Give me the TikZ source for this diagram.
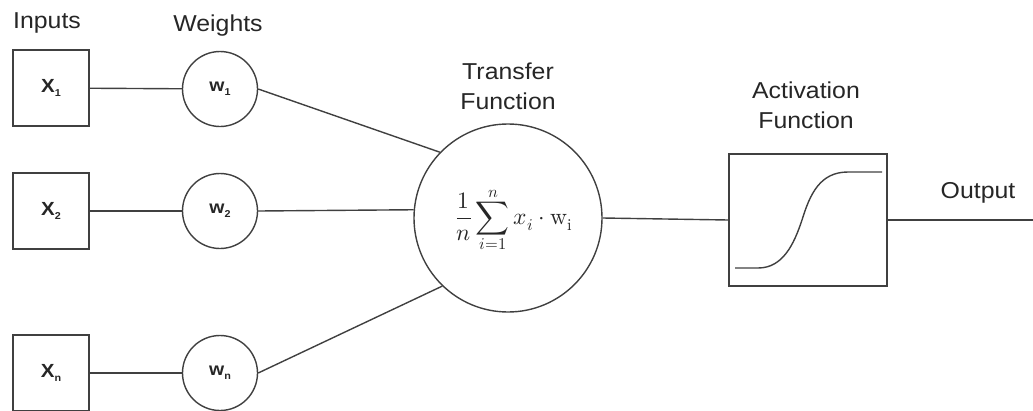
\documentclass[tikz,border=0pt]{standalone}
\usepackage{fontspec}
\usepackage{unicode-math}
\setmainfont{Liberation Sans}[FakeStretch=1.08]
\setmathfont{Latin Modern Math}
\begin{document}
\begin{tikzpicture}[x=1pt,y=-1pt,
  line width=1.4pt,
  every node/.style={text=black!85},
  inbox/.style={draw=black!75,minimum width=76pt,minimum height=76pt,inner sep=0pt,font=\fontsize{19}{20}\selectfont\bfseries},
  wcirc/.style={draw=black!75,circle,minimum size=75pt,inner sep=0pt,font=\fontsize{18}{20}\selectfont\bfseries},
  tcirc/.style={draw=black!75,circle,minimum size=188pt,inner sep=0pt},
  actbox/.style={draw=black!75,minimum width=158pt,minimum height=132pt,inner sep=0pt},
  lbl/.style={font=\fontsize{23}{30}\selectfont,align=center,inner sep=0pt},
  conn/.style={draw=black!75,line width=1.4pt}]
\useasboundingbox (0,0) rectangle (1033,410);

\node[inbox] (x1) at (51,88) {X\raisebox{-0.4ex}{\fontsize{10}{10}\selectfont 1}};
\node[inbox] (x2) at (51,211) {X\raisebox{-0.4ex}{\fontsize{10}{10}\selectfont 2}};
\node[inbox] (xn) at (51,373) {X\raisebox{-0.4ex}{\fontsize{10}{10}\selectfont n}};

\node[wcirc] (w1) at (220,89) {w\raisebox{-0.4ex}{\fontsize{10}{10}\selectfont 1}};
\node[wcirc] (w2) at (220,211) {w\raisebox{-0.4ex}{\fontsize{10}{10}\selectfont 2}};
\node[wcirc] (wn) at (220,373) {w\raisebox{-0.4ex}{\fontsize{10}{10}\selectfont n}};

\node[tcirc] (T) at (508,218) {};
\node[inner sep=0pt] (F) at (514,220) {\fontsize{23.5}{28}\selectfont$\displaystyle \frac{1}{n}\sum_{i=1}^{n} x_i\cdot \symup{w}_{\symup{i}}$};

\node[actbox] (A) at (808,220) {};
\coordinate (out) at (1033,220);

\node[lbl] (Lin) at (47,23) {Inputs};
\node[lbl] (Lw) at (218,26) {Weights};
\node[lbl] (Lt) at (508,86) {Transfer\\Function};
\node[lbl] (La) at (806,105) {Activation\\Function};
\node[lbl] (Lo) at (978,193) {Output};

\draw[conn] (x1) -- (w1);
\draw[conn] (x2.east |- 0,211) -- (w2.west);
\draw[conn] (xn) -- (wn);
\draw[conn] (w1.east) -- (T.136);
\draw[conn] (w2.east) -- (T.180-4.3);
\draw[conn] (wn.east) -- (T.226);
\draw[conn] (T.east) -- (A.west);
\draw[conn] (A.east) -- (out);

% sigmoid
\begin{scope}[shift={(A.center)}]
\draw[conn] (-73,48) -- (-50,48) .. controls (-25,48) and (-14,24) .. (-6,0)
  .. controls (2,-26) and (12,-48) .. (40,-48) -- (74,-48);
\end{scope}
\end{tikzpicture}
\end{document}
